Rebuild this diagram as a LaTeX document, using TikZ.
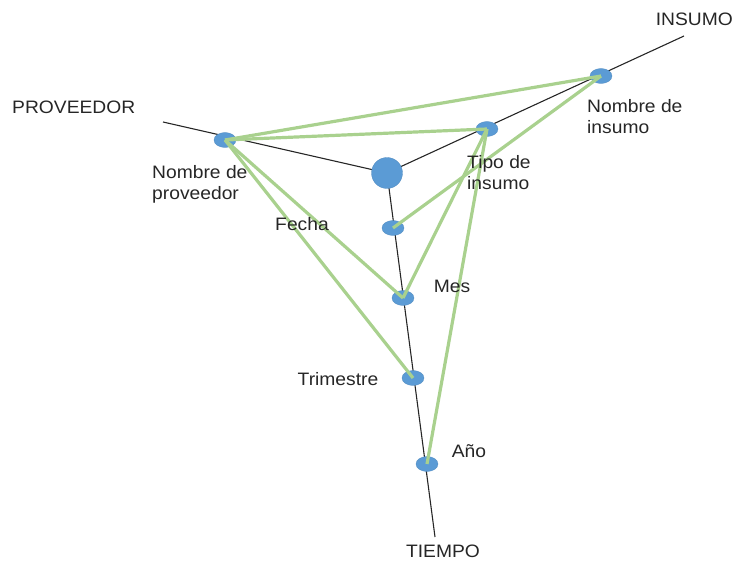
\documentclass[tikz,border=0pt]{standalone}
\usepackage{fontspec}
\setmainfont[FakeStretch=1.07]{Liberation Sans}
\usetikzlibrary{shapes.geometric}
\begin{document}
\begin{tikzpicture}[x=1pt,y=-1pt,
  axis/.style={draw=black!85,line width=1.1pt},
  link/.style={draw=linkgreen,line width=3.2pt},
  level/.style={ellipse,fill=dotblue,draw=dotblue!90!black,line width=0.3pt,minimum width=22pt,minimum height=15pt,inner sep=0pt},
  hub/.style={circle,fill=dotblue,draw=dotblue!90!black,line width=0.3pt,minimum size=31pt,inner sep=0pt},
  lbl/.style={font=\fontsize{18}{21}\selectfont,inner sep=0pt,align=left,text=black!85}]
\definecolor{linkgreen}{RGB}{169,209,142}
\definecolor{dotblue}{RGB}{91,155,213}
\useasboundingbox (0,0) rectangle (734,561);

% axis end points
\coordinate (pend) at (163,122);
\coordinate (iend) at (684,36);
\coordinate (tend) at (435,537);
\coordinate (hubc) at (387,173);

% dimension axes
\draw[axis] (pend) -- (hubc);
\draw[axis] (hubc) -- (iend);
\draw[axis] (hubc) -- (tend);

% hierarchy levels
\node[hub] (hub) at (hubc) {};
\node[level] (np) at (225,140) {};
\node[level] (ti) at (487,129) {};
\node[level] (ni) at (601,76) {};
\node[level] (fe) at (393,228) {};
\node[level] (me) at (403,298) {};
\node[level] (tr) at (413,378) {};
\node[level] (an) at (427,464) {};

% aggregation links
\draw[link] (np.center) -- (ni.center);
\draw[link] (np.center) -- (ti.center);
\draw[link] (np.center) -- (me.center);
\draw[link] (np.center) -- (tr.center);
\draw[link] (ni.center) -- (fe.center);
\draw[link] (ti.center) -- (me.center);
\draw[link] (ti.center) -- (an.center);

% labels
\node[lbl,anchor=west] (lp) at (12,107) {PROVEEDOR};
\node[lbl,anchor=east] (li) at (733,19) {INSUMO};
\node[lbl] (lt) at (443,551) {TIEMPO};
\node[lbl,anchor=north west] (lnp) at (152,165) {Nombre de\\proveedor};
\node[lbl,anchor=north west] (lti) at (467,155) {Tipo de\\insumo};
\node[lbl,anchor=north west] (lni) at (587,99) {Nombre de\\insumo};
\node[lbl] (lfe) at (302,224) {Fecha};
\node[lbl] (lme) at (452,286) {Mes};
\node[lbl] (ltr) at (338,379) {Trimestre};
\node[lbl] (lan) at (469,451) {Año};
\end{tikzpicture}
\end{document}
